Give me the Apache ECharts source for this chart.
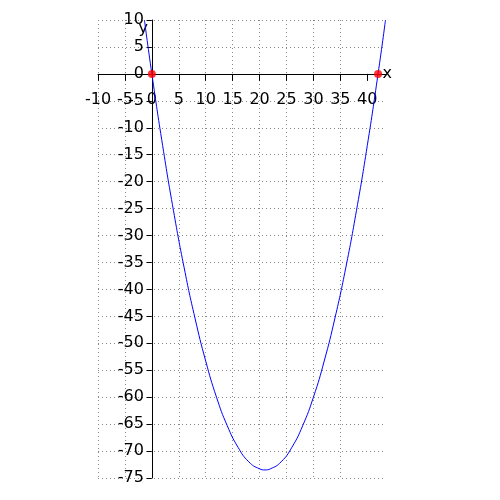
<!DOCTYPE html>
<html>
<head>
<meta charset="utf-8">
<script src="https://cdn.jsdelivr.net/npm/echarts@6/dist/echarts.min.js"></script>
<style>html,body{margin:0;padding:0;background:#fff}#c{width:500px;height:500px}</style>
</head>
<body>
<div id="c"></div>
<script>
// curve samples
const curveX = [-1.38, 0, 2, 4, 6, 8, 10, 12, 14, 16, 18, 20, 21, 22, 24, 26, 28, 30, 32, 34, 36, 38, 40, 42, 43.38];
const curveY = [10, 0, -13.3, -25.3, -36, -45.3, -53.3, -60, -65.3, -69.3, -72, -73.3, -73.5, -73.3, -72, -69.3, -65.3, -60, -53.3, -45.3, -36, -25.3, -13.3, 0, 10];
// red marked points (roots)
const rootX = [0, 42];
const rootY = [0, 0];
// tick labels
const xTicks = [-10, -5, 0, 5, 10, 15, 20, 25, 30, 35, 40];
const yTicks = [10, 5, 0, -5, -10, -15, -20, -25, -30, -35, -40, -45, -50, -55, -60, -65, -70, -75];

const X_MIN = -10, X_MAX = 43.38, Y_MIN = -75, Y_MAX = 10;
const G = {left: 98, right: 114.5, top: 20, bottom: 22};
const W = 500, H = 500;
const gw = W - G.left - G.right, gh = H - G.top - G.bottom;
// distance from grid edges to the zero lines (axes cross at the origin)
const yAxisOffset = -((0 - X_MIN) / (X_MAX - X_MIN)) * gw;
const xAxisOffset = -((0 - Y_MIN) / (Y_MAX - Y_MIN)) * gh;

const font = 'DejaVu Sans';
const chart = echarts.init(document.getElementById('c'), null, {renderer: 'canvas'});
const gridLine = {show: true, lineStyle: {color: '#888', type: [1, 3], width: 1}};
chart.setOption({
  animation: false,
  grid: Object.assign({containLabel: false, outerBoundsMode: 'none'}, G),
  xAxis: {
    type: 'value', min: X_MIN, max: X_MAX, interval: 5,
    position: 'bottom', offset: xAxisOffset,
    axisLine: {onZero: false, lineStyle: {color: '#000', width: 1}},
    axisTick: {show: true, length: 7, lineStyle: {color: '#000'}, customValues: xTicks},
    axisLabel: {color: '#000', fontFamily: font, fontSize: 16, margin: 18, customValues: xTicks, hideOverlap: false},
    splitLine: Object.assign({showMaxLine: false, showMinLine: true}, gridLine),
    name: 'x', nameLocation: 'end', nameGap: -3, nameMoveOverlap: false,
    nameTextStyle: {color: '#000', fontFamily: font, fontSize: 16, align: 'left', verticalAlign: 'middle', padding: [18, 0, 0, 0]}
  },
  yAxis: {
    type: 'value', min: Y_MIN, max: Y_MAX, interval: 5,
    position: 'left', offset: yAxisOffset,
    axisLine: {onZero: false, lineStyle: {color: '#000', width: 1}},
    axisTick: {show: true, length: 5, lineStyle: {color: '#000'}, customValues: yTicks},
    axisLabel: {color: '#000', fontFamily: font, fontSize: 16, margin: 8, customValues: yTicks, hideOverlap: false},
    splitLine: gridLine,
    name: 'y', nameLocation: 'end', nameGap: -1, nameMoveOverlap: false,
    nameTextStyle: {color: '#000', fontFamily: font, fontSize: 16, align: 'right', verticalAlign: 'top', padding: [0, 4, 0, 0]}
  },
  series: [
    {
      type: 'line', smooth: true, showSymbol: false,
      data: curveX.map((x, i) => [x, curveY[i]]),
      lineStyle: {color: '#0000ff', width: 1}, z: 3
    },
    {
      type: 'scatter', symbolSize: 8,
      data: rootX.map((x, i) => [x, rootY[i]]),
      itemStyle: {color: '#ff0000'}, z: 4
    }
  ]
});
</script>
</body>
</html>
